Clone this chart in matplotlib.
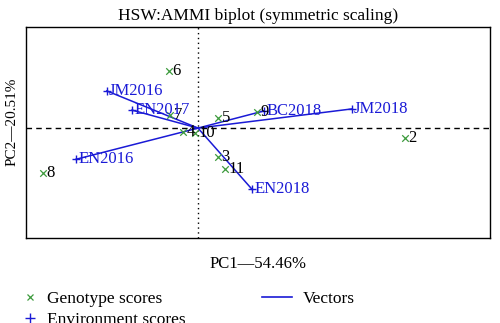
import matplotlib
matplotlib.use("Agg")
import matplotlib.pyplot as plt
from matplotlib.lines import Line2D

plt.rcParams['font.family'] = ['Liberation Serif', 'DejaVu Serif']

geno_labels = ["2", "3", "4", "5", "6", "7", "8", "9", "10", "11"]
geno_pc1 = [5.18, 0.50, -0.38, 0.50, -0.73, -0.70, -3.88, 1.48, -0.08, 0.68]
geno_pc2 = [-0.25, -0.73, -0.10, 0.25, 1.43, 0.33, -1.13, 0.40, -0.13, -1.03]

env_labels = ["JM2016", "EN2017", "EN2016", "BC2018", "JM2018", "EN2018"]
env_pc1 = [-2.28, -1.65, -3.05, 1.65, 3.85, 1.35]
env_pc2 = [0.93, 0.45, -0.78, 0.43, 0.48, -1.53]

title = "HSW:AMMI biplot (symmetric scaling)"
xlabel = "PC1\u201454.46%"
ylabel = "PC2\u201420.51%"

fig = plt.figure(figsize=(5.0, 3.23), dpi=100)
ax = fig.add_axes([0.052, 0.263, 0.928, 0.653])
ax.set_xlim(-4.3, 7.3)
ax.set_ylim(-2.75, 2.525)
ax.set_xticks([])
ax.set_yticks([])
for s in ax.spines.values():
    s.set_linewidth(1.0)

ax.axhline(0, color='black', linestyle=(0, (4, 3)), linewidth=1.0, zorder=1)
ax.axvline(0, color='black', linestyle=(0, (1, 2.5)), linewidth=1.0, zorder=1)

blue = '#1a1ad6'
green = '#3c9a3c'

for x, y in zip(env_pc1, env_pc2):
    ax.plot([0, x], [0, y], color=blue, linewidth=1.1, zorder=2)

ax.scatter(geno_pc1, geno_pc2, marker='x', color=green, s=22, linewidths=0.9, zorder=3)
for x, y, t in zip(geno_pc1, geno_pc2, geno_labels):
    ax.annotate(t, (x, y), xytext=(2.5, 0), textcoords='offset points',
                ha='left', va='center', fontsize=12, color='black', zorder=4)

ax.scatter(env_pc1, env_pc2, marker='+', color=blue, s=40, linewidths=1.0, zorder=3)
for x, y, t in zip(env_pc1, env_pc2, env_labels):
    ax.annotate(t, (x, y), xytext=(1.5, 0), textcoords='offset points',
                ha='left', va='center', fontsize=12, color=blue, zorder=4)

ax.set_title(title, fontsize=12.5, pad=5)
ax.set_xlabel(xlabel, fontsize=12, labelpad=13)
ax.set_ylabel(ylabel, fontsize=11)
ax.yaxis.set_label_coords(-0.017, 0.55)

h_geno = Line2D([], [], marker='x', color=green, linestyle='None', markersize=5,
                markeredgewidth=0.9, label='Genotype scores')
h_env = Line2D([], [], marker='+', color=blue, linestyle='None', markersize=7,
               markeredgewidth=1.0, label='Environment scores')
h_vec = Line2D([], [], color=blue, linewidth=1.2, label='Vectors')

fig.legend(handles=[h_geno, h_env], loc='upper left', bbox_to_anchor=(0.028, 0.12),
           frameon=False, fontsize=12.5, handlelength=1.0, handletextpad=0.5,
           labelspacing=0.28, borderaxespad=0)
fig.legend(handles=[h_vec], loc='upper left', bbox_to_anchor=(0.51, 0.12),
           frameon=False, fontsize=12.5, handlelength=1.72, handletextpad=0.63,
           borderaxespad=0)

fig.savefig("out.png", dpi=100)
